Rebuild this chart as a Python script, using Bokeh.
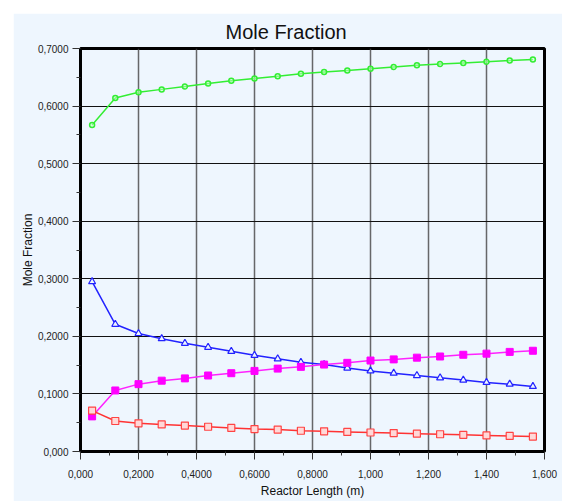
from bokeh.plotting import figure
from bokeh.models import FixedTicker, Range1d
from bokeh.embed import file_html
from bokeh.resources import INLINE

# data
length_m = [0.04, 0.12, 0.20, 0.28, 0.36, 0.44, 0.52, 0.60, 0.68, 0.76,
            0.84, 0.92, 1.00, 1.08, 1.16, 1.24, 1.32, 1.40, 1.48, 1.56]
green_frac = [0.567, 0.614, 0.624, 0.629, 0.634, 0.639, 0.644, 0.648, 0.652, 0.656,
              0.659, 0.662, 0.665, 0.668, 0.671, 0.673, 0.675, 0.677, 0.679, 0.681]
blue_frac = [0.295, 0.221, 0.205, 0.196, 0.188, 0.181, 0.174, 0.167, 0.161, 0.155,
             0.151, 0.145, 0.140, 0.136, 0.132, 0.128, 0.124, 0.120, 0.117, 0.113]
magenta_frac = [0.061, 0.106, 0.117, 0.123, 0.127, 0.132, 0.136, 0.140, 0.144, 0.147,
                0.151, 0.154, 0.158, 0.160, 0.163, 0.165, 0.168, 0.170, 0.173, 0.175]
red_frac = [0.071, 0.053, 0.049, 0.047, 0.045, 0.043, 0.041, 0.039, 0.038, 0.036,
            0.035, 0.034, 0.033, 0.032, 0.031, 0.030, 0.029, 0.028, 0.027, 0.026]

x_ticks = [0.0, 0.2, 0.4, 0.6, 0.8, 1.0, 1.2, 1.4, 1.6]
x_labels = ["0,000", "0,2000", "0,4000", "0,6000", "0,8000", "1,000", "1,200", "1,400", "1,600"]
y_ticks = [0.0, 0.1, 0.2, 0.3, 0.4, 0.5, 0.6, 0.7]
y_labels = ["0,000", "0,1000", "0,2000", "0,3000", "0,4000", "0,5000", "0,6000", "0,7000"]
title_text = "Mole Fraction"

BG = "#eef6fe"
FONT = "Liberation Sans"

p = figure(width=549, height=488, output_backend="svg", toolbar_location=None,
           x_range=Range1d(0, 1.6), y_range=Range1d(0, 0.7),
           min_border_left=67, min_border_right=18, min_border_top=34, min_border_bottom=50)
p.margin = (13, 0, 0, 13)
p.background_fill_color = BG
p.border_fill_color = BG
p.outline_line_color = "black"
p.outline_line_width = 3

p.title.text = title_text
p.title.text_font = FONT
p.title.text_font_size = "20px"
p.title.text_font_style = "normal"
p.title.text_line_height = 0.9
p.title.align = "left"
p.title.offset = 145
p.title.standoff = 11
p.title.text_color = "#111111"

for ax, ticks, labels in ((p.xaxis[0], x_ticks, x_labels), (p.yaxis[0], y_ticks, y_labels)):
    minor = []
    for a, b in zip(ticks[:-1], ticks[1:]):
        minor.append((a + b) / 2)
    ax.ticker = FixedTicker(ticks=ticks, minor_ticks=minor)
    ax.major_label_overrides = {t: l for t, l in zip(ticks, labels)}
    ax.major_label_text_font = FONT
    ax.major_label_text_font_size = "10px"
    ax.major_label_text_color = "#222222"
    ax.axis_line_width = 3
    ax.axis_line_color = "black"
    ax.major_tick_line_color = "#333333"
    ax.minor_tick_line_color = "#333333"
    ax.major_tick_line_width = 1
    ax.minor_tick_line_width = 1
    ax.major_tick_out = 8
    ax.major_tick_in = 0
    ax.minor_tick_out = 4
    ax.minor_tick_in = 0
    ax.axis_label_text_font = FONT
    ax.axis_label_text_font_size = "12px"
    ax.axis_label_text_font_style = "normal"
    ax.axis_label_text_color = "#111111"

p.xaxis.axis_label = "Reactor Length (m)"
p.yaxis.axis_label = "Mole Fraction"
p.xaxis.major_label_standoff = 10
p.yaxis.major_label_standoff = 4
p.xaxis.axis_label_standoff = 3
p.yaxis.axis_label_standoff = 0

p.xgrid.grid_line_color = "#444444"
p.xgrid.grid_line_width = 1.5
p.xgrid.grid_line_alpha = 0.8
p.ygrid.grid_line_color = "#111111"
p.ygrid.grid_line_width = 1.2

p.line(length_m, green_frac, line_color="#33ee33", line_width=1.5)
p.scatter(length_m, green_frac, marker="circle", size=5, line_color="#33ee33",
          fill_color="#ccffcc", fill_alpha=0.5, line_width=1.5)

p.line(length_m, blue_frac, line_color="#2222ff", line_width=1.5)
p.scatter(length_m, blue_frac, marker="triangle", size=7, line_color="#2222ff",
          fill_color=BG, line_width=1.2)

p.line(length_m, magenta_frac, line_color="#ff22ff", line_width=1.5)
p.scatter(length_m, magenta_frac, marker="square", size=7, line_color="#ff00ff",
          fill_color="#ff00ff", line_width=1)

p.line(length_m, red_frac, line_color="#ff3333", line_width=1.5)
p.scatter(length_m, red_frac, marker="square", size=7, line_color="#ff4444",
          fill_color="#ffd8d8", line_width=1.2)

open("out.html", "w").write(file_html(p, INLINE))
